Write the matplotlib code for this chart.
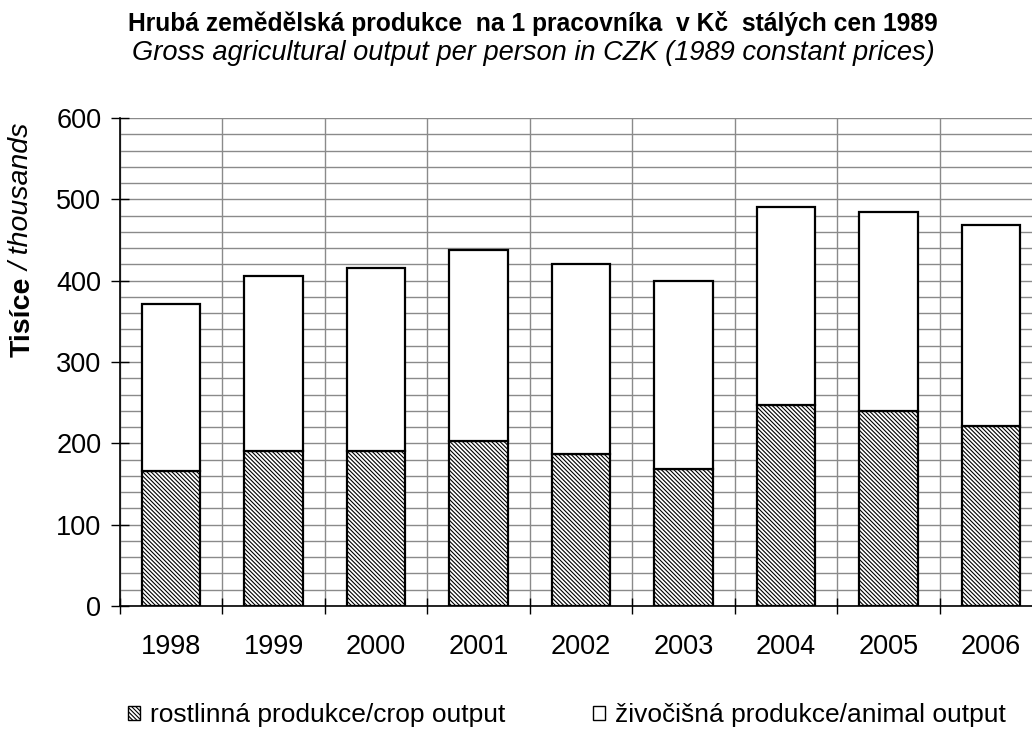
import matplotlib
matplotlib.use("Agg")
import matplotlib.pyplot as plt
import numpy as np
from matplotlib.patches import Patch

plt.rcParams['font.family'] = ['Liberation Sans', 'DejaVu Sans']
plt.rcParams['hatch.linewidth'] = 0.8
plt.rcParams['hatch.color'] = '#303030'

years = ['1998', '1999', '2000', '2001', '2002', '2003', '2004', '2005', '2006']
crop = [166, 190, 190, 203, 187, 168, 247, 240, 221]
total = [371, 406, 416, 438, 421, 400, 490, 485, 469]
animal = [t - c for t, c in zip(total, crop)]

W, H = 1032, 731
fig = plt.figure(figsize=(W / 100, H / 100), dpi=100)
ax = fig.add_axes([120 / W, 1 - 606 / H, 922 / W, (606 - 118) / H])

x = np.arange(len(years))
bw = 0.57
ax.bar(x, crop, bw, color='white', edgecolor='black', hatch='\\\\\\\\\\\\\\\\', linewidth=1.6,
       zorder=3, label='rostlinná produkce/crop output')
ax.bar(x, animal, bw, bottom=crop, color='white', edgecolor='black', linewidth=1.6,
       zorder=3, label='živočišná produkce/animal output')

ax.set_xlim(-0.5, len(years) - 0.5)
ax.set_ylim(0, 600)
ax.set_yticks(np.arange(0, 601, 100))
ax.set_yticks(np.arange(0, 601, 20), minor=True)
ax.set_xticks(np.arange(-0.5, len(years), 1.0))
ax.set_xticklabels([])
ax.set_xticks(x, minor=True)
ax.set_xticklabels(years, minor=True)

ax.grid(True, which='major', axis='both', color='#8a8a8a', linewidth=1.0, zorder=0)
ax.grid(True, which='minor', axis='y', color='#8a8a8a', linewidth=1.0, zorder=0)
ax.set_axisbelow(True)

ax.tick_params(axis='y', which='major', direction='inout', length=13, width=1.0,
               labelsize=19.5, pad=7)
ax.tick_params(axis='y', which='minor', length=0)
ax.tick_params(axis='x', which='major', direction='inout', length=12, width=1.0)
ax.tick_params(axis='x', which='minor', length=0, labelsize=19.5, pad=20)

for s in ['top', 'right']:
    ax.spines[s].set_visible(False)
for s in ['left', 'bottom']:
    ax.spines[s].set_linewidth(1.2)
    ax.spines[s].set_color('black')

fig.text(533 / W, 1 - 24 / H, 'Hrubá zemědělská produkce  na 1 pracovníka  v Kč  stálých cen 1989',
         ha='center', va='center', fontsize=17.7, fontweight='bold')
fig.text(533 / W, 1 - 53 / H, 'Gross agricultural output per person in CZK (1989 constant prices)',
         ha='center', va='center', fontsize=19.6, fontstyle='italic')

# y-axis label: bold + italic parts placed one after the other
t1 = fig.text(23 / W, 1 - 357 / H, 'Tisíce', rotation=90, ha='center', va='bottom',
              fontsize=20.5, fontweight='bold')
renderer = fig.canvas.get_renderer()
bb = t1.get_window_extent(renderer=renderer)
fig.text(23 / W, (bb.y1 + 6) / H, '/ thousands', rotation=90, ha='center', va='bottom',
         fontsize=20.5, fontstyle='italic')

handles = [Patch(facecolor='white', edgecolor='black', hatch='\\\\\\\\\\\\\\\\', linewidth=1.0),
           Patch(facecolor='white', edgecolor='black', linewidth=1.0)]
labels = ['rostlinná produkce/crop output', 'živočišná produkce/animal output']
fig.legend(handles, labels, loc='center', bbox_to_anchor=(567 / W, 1 - 715 / H), ncol=2,
           frameon=False, fontsize=19, handlelength=0.45, handleheight=0.45,
           handletextpad=0.38, columnspacing=3.3, borderpad=0, borderaxespad=0)

fig.savefig('out.png', dpi=100)
